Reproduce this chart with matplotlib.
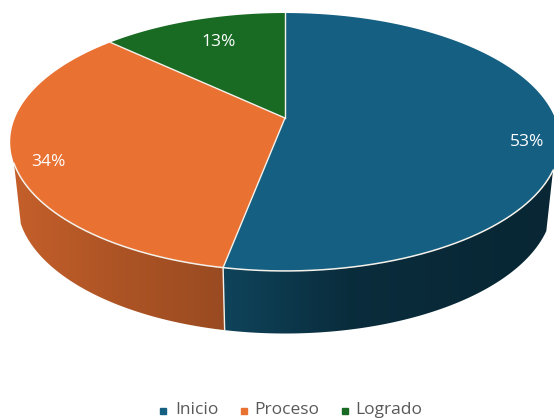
import numpy as np
import matplotlib
matplotlib.use("Agg")
import matplotlib.pyplot as plt
from matplotlib.patches import Polygon

categories = ["Inicio", "Proceso", "Logrado"]
shares = [53, 34, 13]
colors = ["#156082", "#E97132", "#196B24"]
label_pos = [(527, 142), (48, 162), (219, 42)]
legend_marker_x = [163, 244, 345]
legend_text_x = [175, 254, 355]

plt.rcParams["font.family"] = ["Open Sans", "DejaVu Sans"]

# perspective model of the pie, all in image pixels
CX, CY = 285, 118
A, B, K = 270, 124.5, -0.186
WALL_START, WALL_END = np.radians(113), np.radians(250)
EDGE = "#F4F1EA"


def top_rim(theta):
    u, v = np.sin(theta), -np.cos(theta)
    w = 1 + K * v
    return CX + A * u / w, CY + B * v / w


def bottom_rim(theta):
    x, y = top_rim(theta)
    return CX + 0.975 * (x - CX), CY + 59.5 + 1.02 * (y - CY)


def wall_shade(name, x):
    if name == "Inicio":
        return np.interp(x, [225, 350, 550], [0.70, 0.46, 0.40])
    return np.interp(x, [15, 120, 224], [0.84, 0.74, 0.66])


fig = plt.figure(figsize=(5.54, 4.18), dpi=100)
ax = fig.add_axes([0, 0, 1, 1])
ax.axis("off")

edges = np.radians(np.cumsum([0] + shares) * 3.6)

# side wall first, only the part that faces the viewer: a gradient clipped to the wall
for name, color, t0, t1 in zip(categories, colors, edges[:-1], edges[1:]):
    t0, t1 = max(t0, WALL_START), min(t1, WALL_END)
    if t1 <= t0:
        continue
    ts = np.linspace(t0, t1, 300)
    xt, yt = top_rim(ts)
    xb, yb = bottom_rim(ts)
    outline = np.column_stack([np.r_[xt, xb[::-1]], np.r_[yt, yb[::-1]]])
    wall = Polygon(outline, closed=True, facecolor="none", edgecolor="none", transform=ax.transData)
    ax.add_patch(wall)
    x0, x1 = outline[:, 0].min(), outline[:, 0].max()
    xs = np.linspace(x0, x1, 300)
    rgb = np.array(matplotlib.colors.to_rgb(color))
    grad = (wall_shade(name, xs)[:, None] * rgb)[None, :, :]
    im = ax.imshow(grad, extent=[x0, x1, outline[:, 1].max(), outline[:, 1].min()],
                   aspect="auto", interpolation="bilinear", zorder=1)
    im.set_clip_path(wall)

ax.set_xlim(0, 554)
ax.set_ylim(418, 0)

# top of the pie
for color, t0, t1 in zip(colors, edges[:-1], edges[1:]):
    ts = np.linspace(t0, t1, 200)
    xt, yt = top_rim(ts)
    pts = np.column_stack([np.r_[CX, xt], np.r_[CY, yt]])
    ax.add_patch(Polygon(pts, closed=True, facecolor=color, edgecolor="none", zorder=2))

# dividers between the slices
for t in edges[:-1]:
    x, y = top_rim(t)
    ax.plot([CX, x], [CY, y], color=EDGE, lw=1.0, zorder=3)

# pale line along the front of the rim
ts = np.linspace(WALL_START, WALL_END, 300)
ax.plot(*top_rim(ts), color=EDGE, lw=1.1, zorder=3)

# wall seam between Inicio and Proceso
sx0, sy0 = top_rim(edges[1])
sx1, sy1 = bottom_rim(edges[1])
ax.plot([sx0, sx1], [sy0, sy1], color=EDGE, lw=1.0, zorder=3)

for value, (x, y) in zip(shares, label_pos):
    ax.text(x, y, f"{value}%", color="white", fontsize=12.5, ha="center", va="center", zorder=4)

for name, color, mx, tx in zip(categories, colors, legend_marker_x, legend_text_x):
    ax.plot([mx], [411], marker="s", ms=4.2, color=color, ls="none")
    ax.text(tx, 410, name, color="#595959", fontsize=12.5, ha="left", va="center")

fig.savefig("out.png", dpi=100)
plt.close()
